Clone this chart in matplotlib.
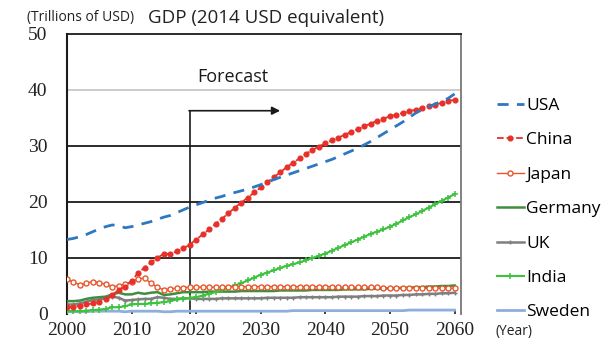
import matplotlib
matplotlib.use("Agg")
import matplotlib.pyplot as plt

years = list(range(2000, 2061))

usa = [13.3, 13.5, 13.8, 14.2, 14.7, 15.2, 15.6, 15.9, 15.8, 15.4,
       15.6, 15.9, 16.2, 16.5, 16.9, 17.3, 17.6, 18.1, 18.6, 19.1,
       19.5, 19.9, 20.3, 20.7, 21.0, 21.4, 21.7, 22.0, 22.3, 22.7,
       23.1, 23.5, 24.0, 24.4, 24.8, 25.2, 25.6, 26.0, 26.4, 26.8,
       27.2, 27.6, 28.1, 28.6, 29.1, 29.6, 30.2, 30.8, 31.5, 32.2,
       32.9, 33.6, 34.3, 35.1, 35.9, 36.5, 37.0, 37.5, 38.0, 38.5,
       39.3]
china = [1.2, 1.3, 1.5, 1.7, 1.9, 2.2, 2.7, 3.4, 4.3, 4.9,
         5.9, 7.3, 8.3, 9.2, 10.0, 10.8, 10.7, 11.2, 11.7, 12.4,
         13.3, 14.2, 15.1, 16.1, 17.0, 18.0, 19.0, 19.9, 20.8, 21.7,
         22.6, 23.5, 24.4, 25.3, 26.2, 27.0, 27.8, 28.6, 29.3, 29.9,
         30.5, 31.0, 31.5, 32.0, 32.5, 33.0, 33.5, 34.0, 34.5, 34.9,
         35.3, 35.6, 35.9, 36.2, 36.5, 36.8, 37.1, 37.4, 37.7, 38.0,
         38.3]
japan = [6.2, 5.7, 5.2, 5.5, 5.8, 5.6, 5.3, 4.9, 5.0, 5.4,
         5.8, 6.3, 6.4, 5.5, 4.8, 4.3, 4.5, 4.6, 4.7, 4.8,
         4.8, 4.8, 4.8, 4.8, 4.8, 4.9, 4.9, 4.9, 4.9, 4.9,
         4.9, 4.9, 4.9, 4.9, 4.9, 4.9, 4.9, 4.9, 4.9, 4.9,
         4.9, 4.9, 4.8, 4.8, 4.8, 4.8, 4.8, 4.8, 4.8, 4.7,
         4.7, 4.7, 4.7, 4.7, 4.7, 4.6, 4.6, 4.6, 4.6, 4.6,
         4.6]
germany = [2.3, 2.3, 2.4, 2.7, 2.9, 3.0, 3.1, 3.5, 3.8, 3.5,
           3.5, 3.8, 3.6, 3.8, 3.9, 3.4, 3.5, 3.7, 3.9, 3.9,
           3.9, 3.9, 4.0, 4.0, 4.0, 4.0, 4.0, 4.1, 4.1, 4.1,
           4.1, 4.1, 4.1, 4.2, 4.2, 4.2, 4.2, 4.2, 4.3, 4.3,
           4.3, 4.3, 4.3, 4.4, 4.4, 4.4, 4.4, 4.5, 4.5, 4.5,
           4.6, 4.6, 4.7, 4.7, 4.8, 4.8, 4.9, 4.9, 5.0, 5.0,
           5.1]
uk = [1.7, 1.7, 1.9, 2.2, 2.5, 2.6, 2.8, 3.1, 2.9, 2.4,
      2.5, 2.6, 2.7, 2.7, 3.0, 2.9, 2.7, 2.7, 2.8, 2.8,
      2.7, 2.7, 2.7, 2.7, 2.8, 2.8, 2.8, 2.8, 2.8, 2.8,
      2.8, 2.9, 2.9, 2.9, 2.9, 2.9, 3.0, 3.0, 3.0, 3.0,
      3.0, 3.0, 3.1, 3.1, 3.1, 3.1, 3.2, 3.2, 3.2, 3.3,
      3.3, 3.3, 3.4, 3.4, 3.5, 3.5, 3.6, 3.6, 3.7, 3.7,
      3.8]
india = [0.5, 0.5, 0.5, 0.6, 0.7, 0.8, 0.9, 1.2, 1.2, 1.4,
         1.7, 1.8, 1.8, 1.9, 2.0, 2.1, 2.3, 2.6, 2.7, 2.9,
         3.0, 3.3, 3.6, 3.9, 4.3, 4.7, 5.1, 5.5, 6.0, 6.5,
         7.0, 7.4, 7.8, 8.2, 8.6, 8.9, 9.2, 9.6, 10.0, 10.4,
         10.8, 11.3, 11.8, 12.3, 12.8, 13.3, 13.8, 14.3, 14.7, 15.1,
         15.6, 16.1, 16.7, 17.3, 17.8, 18.4, 19.0, 19.6, 20.2, 20.8,
         21.4]
sweden = [0.4, 0.4, 0.4, 0.4, 0.5, 0.5, 0.5, 0.5, 0.5, 0.4,
          0.5, 0.5, 0.5, 0.5, 0.5, 0.4, 0.4, 0.5, 0.5, 0.5,
          0.5, 0.5, 0.5, 0.5, 0.5, 0.5, 0.5, 0.5, 0.5, 0.5,
          0.5, 0.5, 0.5, 0.5, 0.5, 0.6, 0.6, 0.6, 0.6, 0.6,
          0.6, 0.6, 0.6, 0.6, 0.6, 0.6, 0.6, 0.6, 0.6, 0.6,
          0.6, 0.6, 0.6, 0.7, 0.7, 0.7, 0.7, 0.7, 0.7, 0.7,
          0.7]

x_ticks = [2000, 2010, 2020, 2030, 2040, 2050, 2060]
y_ticks = [0, 10, 20, 30, 40, 50]
forecast_start = 2019

SANS = ["Open Sans", "DejaVu Sans"]
SERIF = ["Liberation Serif", "DejaVu Serif"]

fig = plt.figure(figsize=(6.08, 3.45), dpi=100)
ax = fig.add_axes([67/608, 1-314/345, 394/608, 280/345])

# gridlines
for v, c in [(10, "#1a1a1a"), (20, "#1a1a1a"), (30, "#1a1a1a"), (40, "#c8c8c8")]:
    ax.axhline(v, color=c, lw=1.3, zorder=1)

ax.plot(years, sweden, color="#8eaedb", lw=2.0, label="Sweden", zorder=3)
ax.plot(years, uk, color="#7f7f7f", lw=1.8, marker="+", ms=3.0, mew=1.0, label="UK", zorder=3)
ax.plot(years, germany, color="#3e8e3e", lw=1.8, label="Germany", zorder=3)
ax.plot(years, india, color="#3cc23c", lw=1.5, ls="-", marker="+", ms=4.5, mew=1.1, label="India", zorder=4)
ax.plot(years, japan, color="#e8572a", lw=1.0, marker="o", ms=3.6, mfc="white", mec="#e8572a", mew=1.0,
        label="Japan", zorder=4)
ax.plot(years, china, color="#e8302a", lw=1.3, ls="--", marker="o", ms=3.4, mec="#e8302a", label="China", zorder=5)
ax.plot(years, usa, color="#2e78c0", lw=2.0, ls=(0, (4, 3)), label="USA", zorder=5)

# forecast marker
ax.plot([forecast_start, forecast_start], [0, 36.3], color="#1a1a1a", lw=1.2, zorder=2)
ax.annotate("", xy=(2033.0, 36.3), xytext=(forecast_start - 0.1, 36.3),
            arrowprops=dict(arrowstyle="-|>", color="#1a1a1a", lw=1.2, mutation_scale=12, shrinkA=0, shrinkB=0),
            zorder=2)
ax.text(2025.7, 42.4, "Forecast", ha="center", va="center", fontsize=13, family=SANS, color="#1a1a1a")

ax.set_xlim(2000, 2061)
ax.set_ylim(0, 50)
ax.set_xticks(x_ticks)
ax.set_yticks(y_ticks)
ax.set_xticklabels([str(t) for t in x_ticks])
ax.set_yticklabels([str(t) for t in y_ticks])
ax.tick_params(axis="x", direction="in", length=3, width=1.2, pad=6, colors="#222222")
ax.tick_params(axis="y", length=0, pad=14, colors="#222222")
for lab in ax.get_xticklabels() + ax.get_yticklabels():
    lab.set_fontfamily(SERIF)
    lab.set_fontsize(14)
    lab.set_fontweight("normal")
    lab.set_color("#222222")

ax.spines["left"].set_color("#1a1a1a")
ax.spines["left"].set_linewidth(1.5)
ax.spines["top"].set_color("#1a1a1a")
ax.spines["top"].set_linewidth(1.3)
ax.spines["right"].set_color("#777777")
ax.spines["right"].set_linewidth(1.3)
ax.spines["bottom"].set_visible(False)

handles, labels = ax.get_legend_handles_labels()
order = ["USA", "China", "Japan", "Germany", "UK", "India", "Sweden"]
hmap = dict(zip(labels, handles))
leg = fig.legend([hmap[k] for k in order], order, loc="upper left",
                 bbox_to_anchor=(490/608, 1-91/345), frameon=False,
                 prop={"family": SANS, "size": 12.5}, handlelength=1.55, handletextpad=0.12,
                 labelspacing=1.05, borderaxespad=0)

fig.text(27/608, 1-18/345, "(Trillions of USD)", fontsize=10, family=SANS, va="center", ha="left", color="#222222")
fig.text(148/608, 1-18/345, "GDP (2014 USD equivalent)", fontsize=13.5, family=SANS, va="center", ha="left",
         color="#222222")
fig.text(495/608, 1-331/345, "(Year)", fontsize=10, family=SANS, va="center", ha="left", color="#222222")

fig.savefig("out.png", dpi=100)
